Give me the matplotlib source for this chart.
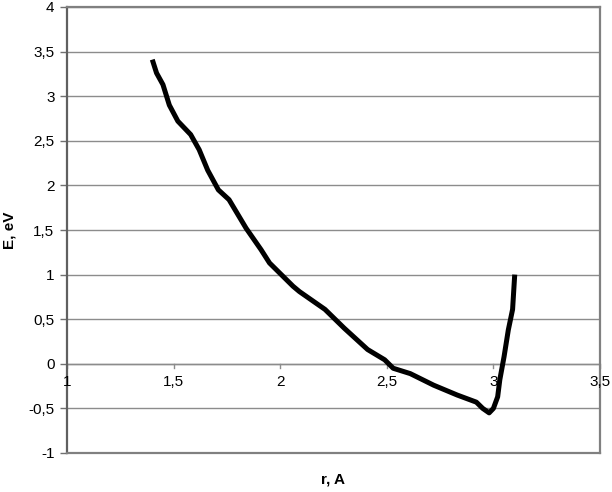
import matplotlib
matplotlib.use("Agg")
import matplotlib.pyplot as plt
from matplotlib.ticker import FuncFormatter

r_vals = [1.40, 1.42, 1.45, 1.48, 1.52, 1.58, 1.62, 1.66, 1.71, 1.76, 1.84, 1.91,
          1.95, 2.06, 2.09, 2.21, 2.30, 2.41, 2.49, 2.53, 2.61, 2.72, 2.83, 2.92,
          2.95, 2.98, 3.00, 3.02, 3.03, 3.05, 3.07, 3.09, 3.10]
e_vals = [3.41, 3.26, 3.13, 2.90, 2.72, 2.57, 2.40, 2.17, 1.95, 1.84, 1.52, 1.28,
          1.13, 0.87, 0.81, 0.61, 0.40, 0.16, 0.045, -0.05, -0.11, -0.24, -0.35, -0.43,
          -0.50, -0.55, -0.50, -0.37, -0.18, 0.08, 0.38, 0.61, 1.00]
x_ticks = [1, 1.5, 2, 2.5, 3, 3.5]
y_ticks = [-1, -0.5, 0, 0.5, 1, 1.5, 2, 2.5, 3, 3.5, 4]

plt.rcParams['font.family'] = ['Liberation Sans', 'DejaVu Sans']

fig = plt.figure(figsize=(6.12, 4.92), dpi=100)
W, H = 612, 492
L, R, T, B = 67, 600, 7, 453
ax = fig.add_axes([L / W, (H - B) / H, (R - L) / W, (B - T) / H])

ax.set_xlim(1, 3.5)
ax.set_ylim(-1, 4)

fmt = FuncFormatter(lambda v, p: ('%g' % v).replace('.', ','))

# gridlines
for y in y_ticks:
    ax.axhline(y, color='#8c8c8c', lw=1.0, zorder=1)

# x axis at y=0
ax.axhline(0, color='#8c8c8c', lw=1.0, zorder=1)
for x in x_ticks:
    ax.plot([x, x], [0, -0.05], color='#8c8c8c', lw=1.0, zorder=1, clip_on=False)
    ax.text(x, -0.20, fmt(x, None), ha='center', va='center', fontsize=11, color='black', zorder=5)

ax.plot(r_vals, e_vals, color='black', lw=3.6, solid_capstyle='butt',
        solid_joinstyle='round', zorder=4)

ax.set_xticks([])
ax.set_yticks(y_ticks)
ax.yaxis.set_major_formatter(fmt)
ax.tick_params(axis='y', length=5, width=1, color='#707070', labelsize=11, pad=4)

for side in ['left', 'bottom', 'right', 'top']:
    ax.spines[side].set_color('#808080')
    ax.spines[side].set_linewidth(1.6)
ax.spines['left'].set_color('#606060')

fig.text(10 / W, 1 - 230 / H, 'E, eV', rotation=90, ha='center', va='center',
         fontsize=11, fontweight='bold')
fig.text(333 / W, 1 - 480 / H, 'r, A', ha='center', va='center',
         fontsize=11, fontweight='bold')

fig.savefig('out.png', dpi=100)
